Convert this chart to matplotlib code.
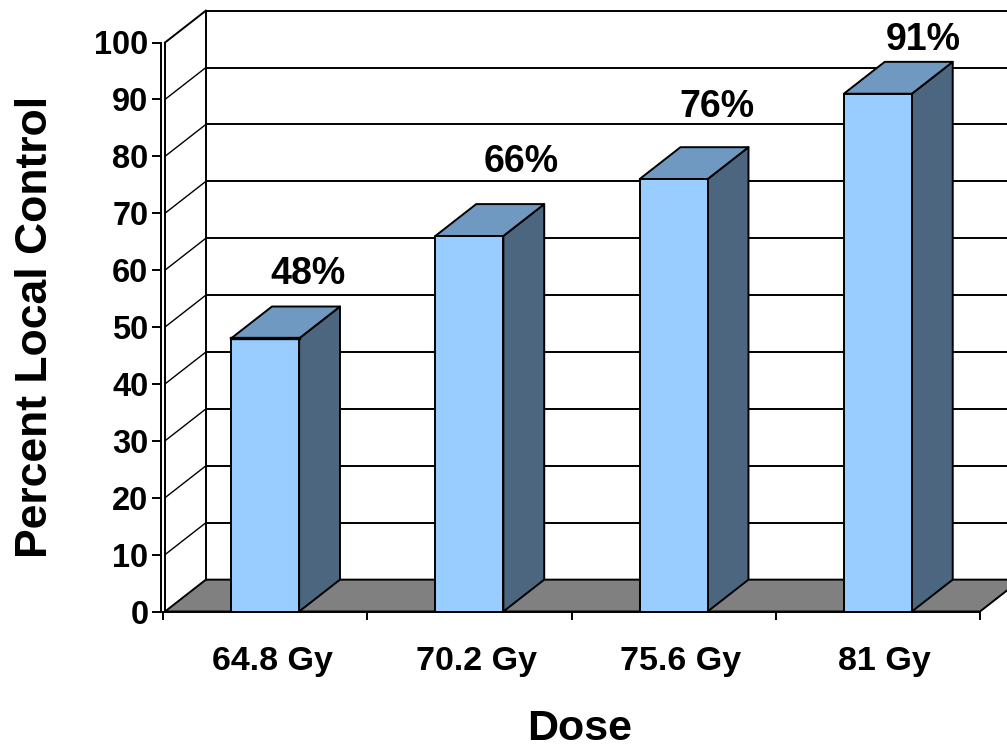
import matplotlib
matplotlib.use("Agg")
import matplotlib.pyplot as plt
from matplotlib.patches import Polygon

doses = ["64.8 Gy", "70.2 Gy", "75.6 Gy", "81 Gy"]
local_control = [48, 66, 76, 91]
y_ticks = [0, 10, 20, 30, 40, 50, 60, 70, 80, 90, 100]

FRONT = "#99CCFF"
TOP = "#7099C2"
SIDE = "#4C667F"
FLOOR = "#808080"
INK = "#000000"
DEPTH_X = 0.2
DEPTH_Y = 5.6
WALL_INSET = 0.01
BAR_W = 0.333
LW = 1.4

W, H = 1007, 750
plt.rcParams["font.family"] = ["Liberation Sans", "DejaVu Sans"]
plt.rcParams["font.weight"] = "bold"

fig = plt.figure(figsize=(W / 100, H / 100), dpi=100, facecolor="white")
ax = fig.add_axes([163 / W, 1 - 611.5 / H, 817 / W, 569 / H])
ax.set_xlim(0, 4)
ax.set_ylim(0, 100)
ax.patch.set_visible(False)


def poly(points, color, z, lw=LW):
    ax.add_patch(Polygon(points, closed=True, facecolor=color, edgecolor=INK,
                         linewidth=lw, clip_on=False, zorder=z, joinstyle="round"))


# Floor and the two walls of the 3-D box
wall_front = WALL_INSET
wall_back = WALL_INSET + DEPTH_X
poly([(wall_front, 0), (wall_back, DEPTH_Y), (4 + DEPTH_X, DEPTH_Y), (4, 0)], FLOOR, 1)
for v in y_ticks[1:]:
    ax.plot([wall_back, 4 + DEPTH_X], [v + DEPTH_Y] * 2, color=INK, lw=LW,
            clip_on=False, zorder=1)
    ax.plot([wall_front, wall_back], [v, v + DEPTH_Y], color=INK, lw=1.0 if v < 100 else LW,
            clip_on=False, zorder=1)
ax.plot([wall_back, wall_back], [DEPTH_Y, 100 + DEPTH_Y], color=INK, lw=LW, clip_on=False, zorder=1)
ax.plot([wall_front, wall_front], [0, 100], color=INK, lw=LW, clip_on=False, zorder=1)

# Bars: side, top and front faces
centers = [i + 0.5 for i in range(len(doses))]
for c, v in zip(centers, local_control):
    left, right = c - BAR_W / 2, c + BAR_W / 2
    poly([(right, 0), (right + DEPTH_X, DEPTH_Y), (right + DEPTH_X, v + DEPTH_Y), (right, v)], SIDE, 3)
    poly([(left, v), (left + DEPTH_X, v + DEPTH_Y), (right + DEPTH_X, v + DEPTH_Y), (right, v)], TOP, 3)
    poly([(left, 0), (left, v), (right, v), (right, 0)], FRONT, 4)

# The shortest bar carries a heavier top edge
short_c, short_v = centers[0], local_control[0]
ax.plot([short_c - BAR_W / 2, short_c + BAR_W / 2], [short_v, short_v], color=INK, lw=2.4,
        clip_on=False, zorder=5)

# Value labels float above each bar
label_dx = [43, 52, 43, 45]
label_dy = [64, 74, 72, 54]
for c, v, dx, dy in zip(centers, local_control, label_dx, label_dy):
    ax.annotate(f"{v}%", xy=(c, v), xytext=(dx * 0.72, dy * 0.72), textcoords="offset points",
                ha="center", va="center", fontsize=27, fontweight="bold", color=INK,
                annotation_clip=False, zorder=6)

# Axes
for name in ("top", "right"):
    ax.spines[name].set_visible(False)
ax.spines["left"].set_position(("outward", 1.5))
ax.spines["left"].set_linewidth(LW)
ax.spines["bottom"].set_linewidth(LW)
ax.spines["bottom"].set_zorder(5)

ax.set_yticks(y_ticks)
ax.set_yticklabels([str(t) for t in y_ticks])
ax.tick_params(axis="y", length=6.5, width=LW, pad=2.5, labelsize=23.5)

ax.set_xticks(range(5))
ax.set_xticklabels([])
ax.set_xticks([c + 0.034 for c in centers], minor=True)
ax.set_xticklabels(doses, minor=True)
ax.tick_params(axis="x", which="major", length=6, width=LW)
ax.tick_params(axis="x", which="minor", length=0, pad=25, labelsize=24.5)

ax.text((580 - 163) / 817, (611.5 - 729) / 569, "Dose", transform=ax.transAxes,
        ha="center", va="center", fontsize=31, fontweight="bold")
ax.text((36 - 163) / 817, 0.5, "Percent Local Control", transform=ax.transAxes,
        ha="center", va="center", rotation=90, fontsize=32, fontweight="bold")

fig.savefig("out.png", dpi=100)
